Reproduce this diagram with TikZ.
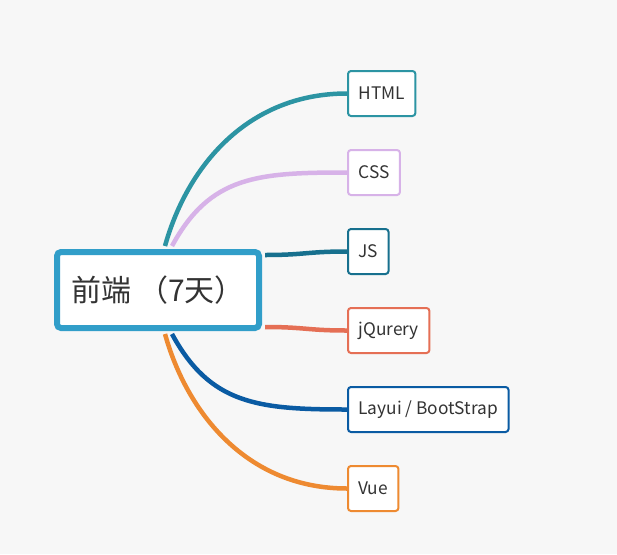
\documentclass[tikz,border=0pt]{standalone}
\usepackage{fontspec}
\setmainfont{Noto Sans CJK SC}
\usepackage{tikz}
\usetikzlibrary{positioning}
\definecolor{bgcol}{HTML}{F7F7F7}
\definecolor{rootblue}{HTML}{319EC9}
\definecolor{htmlteal}{HTML}{2C94A3}
\definecolor{csslilac}{HTML}{D7B2E8}
\definecolor{jsteal}{HTML}{17708E}
\definecolor{jqred}{HTML}{E56F55}
\definecolor{layuiblue}{HTML}{0A5BA3}
\definecolor{vueorange}{HTML}{EE8A31}
\definecolor{txtgray}{HTML}{333333}

\begin{document}
\begin{tikzpicture}[x=1pt, y=-1pt,
	rootbox/.style={draw=rootblue, line width=6pt, fill=white, rounded corners=4pt, minimum width=202pt, minimum height=76pt, text=txtgray, font=\fontsize{30}{36}\selectfont},
	leafbox/.style={draw=#1, line width=2pt, fill=white, rounded corners=3pt, minimum height=45pt, inner xsep=10.5pt, anchor=west, text=txtgray, font=\fontsize{17.3}{21}\selectfont},
	branch/.style={draw=#1, line width=4.5pt}]
	\fill [bgcol] (0, 0) rectangle (617, 554);
	\useasboundingbox (0, 0) rectangle (617, 554);
	\node [rootbox] (root) at (158, 290) {前端 （7天）};
	\node [leafbox=htmlteal] (html) at (347, 93.5) {HTML};
	\node [leafbox=csslilac] (css) at (347, 172.5) {CSS};
	\node [leafbox=jsteal] (js) at (347, 251.5) {JS};
	\node [leafbox=jqred] (jq) at (347, 330.5) {jQurery};
	\node [leafbox=layuiblue] (layui) at (347, 409.5) {Layui / BootStrap};
	\node [leafbox=vueorange] (vue) at (347, 488.5) {Vue};
	\draw [branch=htmlteal] ([shift={(7pt,3pt)}]root.north) .. controls +(22, -79) and +(-100, 0) .. (html.west);
	\draw [branch=csslilac] ([shift={(14pt,3pt)}]root.north) .. controls +(38, -70) and +(-90, 0) .. (css.west);
	\draw [branch=jsteal] ([shift={(3pt,35pt)}]root.east) .. controls +(40, 0) and +(-40, 0) .. (js.west);
	\draw [branch=jqred] ([shift={(3pt,-37pt)}]root.east) .. controls +(40, 0) and +(-40, 0) .. (jq.west);
	\draw [branch=layuiblue] ([shift={(14pt,-3pt)}]root.south) .. controls +(38, 70) and +(-90, 0) .. (layui.west);
	\draw [branch=vueorange] ([shift={(7pt,-3pt)}]root.south) .. controls +(22, 79) and +(-100, 0) .. (vue.west);
\end{tikzpicture}
\end{document}
